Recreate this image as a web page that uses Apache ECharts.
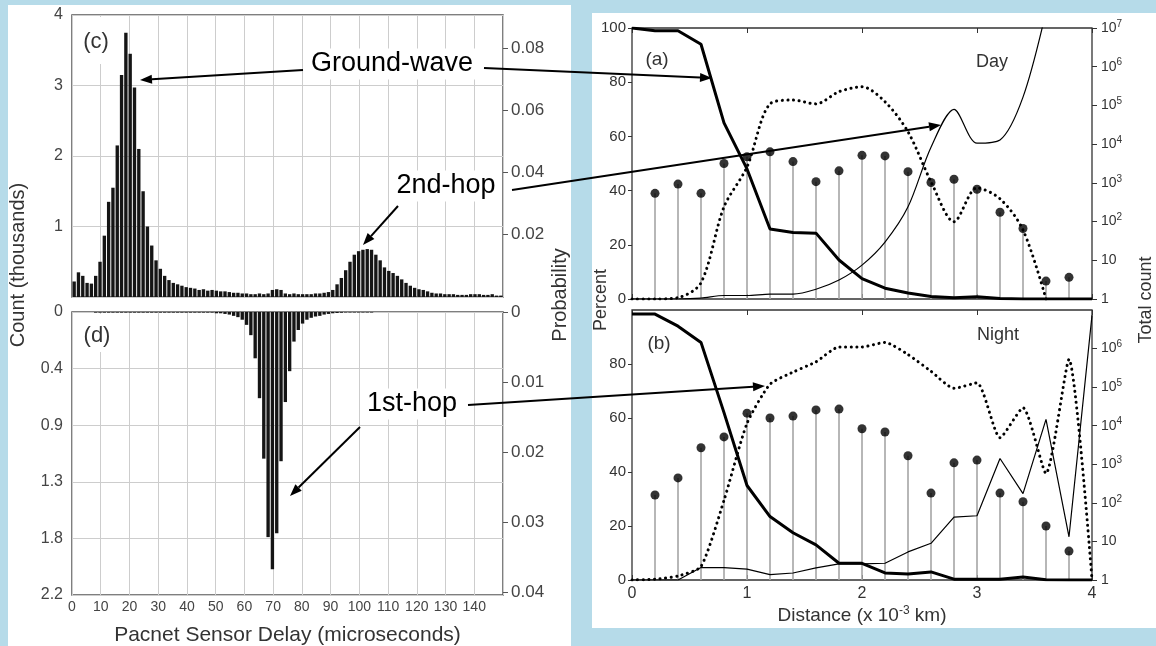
<!DOCTYPE html>
<html>
<head>
<meta charset="utf-8">
<script src="https://cdn.jsdelivr.net/npm/echarts@6/dist/echarts.min.js"></script>
<style>
html,body{margin:0;padding:0;}
body{width:1156px;height:646px;background:#b6dbe9;position:relative;overflow:hidden;}
.panel{position:absolute;background:#fff;}
#chart{position:absolute;left:0;top:0;width:1156px;height:646px;}
</style>
</head>
<body>
<div class="panel" style="left:8px;top:5px;width:563px;height:641px;"></div>
<div class="panel" style="left:592px;top:13px;width:564px;height:615px;"></div>
<div id="chart"></div>
<script>
// ---------- Data ----------
// Histogram bins: 1.5 microsecond bins from 0 to 150
const binCount = 100;
const binWidth = 1.5;
const countC = [ // (c) count in thousands
 0.22,0.35,0.30,0.20,0.19,0.30,0.50,0.87,1.35,1.55,
 2.15,3.15,3.75,3.45,2.97,2.10,1.50,1.00,0.73,0.52,
 0.40,0.30,0.24,0.20,0.18,0.16,0.14,0.13,0.12,0.10,
 0.11,0.09,0.10,0.09,0.08,0.08,0.07,0.06,0.06,0.05,
 0.05,0.04,0.04,0.05,0.04,0.05,0.10,0.11,0.10,0.05,
 0.04,0.05,0.04,0.04,0.04,0.04,0.05,0.05,0.06,0.07,
 0.10,0.18,0.27,0.38,0.50,0.60,0.65,0.67,0.68,0.67,
 0.60,0.52,0.42,0.37,0.34,0.30,0.25,0.20,0.16,0.13,
 0.11,0.10,0.08,0.06,0.05,0.05,0.04,0.04,0.04,0.03,
 0.03,0.03,0.04,0.04,0.04,0.03,0.03,0.04,0.02,0.02
];
const countD = [ // (d) count in thousands (drawn downward)
 0,0,0,0,0,0.005,0.005,0.005,0.005,0.005,
 0.005,0.005,0.005,0.005,0.005,0.005,0.005,0.005,0.005,0.005,
 0.005,0.005,0.005,0.005,0.005,0.005,0.005,0.005,0.005,0.005,
 0.005,0.005,0.005,0.01,0.01,0.015,0.02,0.03,0.04,0.06,
 0.10,0.18,0.36,0.67,1.14,1.75,2.00,1.72,1.16,0.70,
 0.46,0.23,0.14,0.09,0.06,0.045,0.035,0.03,0.02,0.015,
 0.01,0.008,0.006,0.004,0.004,0.004,0.004,0.004,0.004,0.004,
 0,0,0,0,0,0,0,0,0,0,
 0,0,0,0,0,0,0,0,0,0,
 0,0,0,0,0,0,0,0,0,0
];
// Distance grid (x 10^-3 km)
const distance = [0,0.2,0.4,0.6,0.8,1.0,1.2,1.4,1.6,1.8,2.0,2.2,2.4,2.6,2.8,3.0,3.2,3.4,3.6,3.8,4.0];
const stemX = [0.2,0.4,0.6,0.8,1.0,1.2,1.4,1.6,1.8,2.0,2.2,2.4,2.6,2.8,3.0,3.2,3.4,3.6,3.8];
// Day (a)
const dayGround = [100,99,99,94,65,48,25.8,24.5,24.3,14.4,7.5,4,2.2,0.9,0.5,0.8,0.2,0,0,0,0];
const dayFirst  = [0,0,0.5,6,34,48.7,72,73.4,72,76.5,78.3,72.8,61.7,43.3,28.5,41,37,25.5,0,null,null];
const daySecond = [0,0,0,0.3,1.3,1.3,1.8,1.8,3.6,7,12.5,21,34,56,70,57.5,58.7,74.5,106,null,null];
const dayTotal  = [39,42.4,39,50,52.5,54.3,50.7,43.3,47.3,53,52.8,47,43,44.2,40.5,32,26,6.6,8];
// Night (b)
const nightGround = [98.5,98.5,94,88,62,35,23.5,17.5,13,6.2,6.2,2.6,2.2,3,0.3,0.3,0.3,1.1,0.1,0,0];
const nightFirst  = [0,0.3,1.5,5,29.5,58,72.5,77,80.8,86.3,86.3,88,83.5,77.3,71,73,52.7,63.8,39.5,81.7,0];
const nightSecond = [0,0,0,4.6,4.6,4,2,2.6,4.5,6,6,6.2,10.4,13.6,23.3,23.8,45,32,59.5,16,98];
const nightTotal  = [31.5,37.8,49,53,61.8,60,60.7,63,63.3,56,54.8,46,32.2,43.4,44.4,32.2,29,20,10.7];

// ---------- Helpers ----------
const FONT = 'Liberation Sans, Arial, Helvetica, sans-serif';
const binCats = [];
for (let i = 0; i < binCount; i++) binCats.push(String(i * binWidth));
const zip = (xs, ys) => xs.map((x, i) => [x, ys[i]]).filter(p => p[1] !== null && p[1] !== undefined);
const gridLine = {show: true, lineStyle: {color: '#cdcdcd', width: 1}};
const noLine = {show: false, onZero: false};
const logFmt = v => { const e = Math.round(Math.log10(v)); return e === 0 ? '1' : (e === 1 ? '10' : '10{s|' + e + '}'); };
const logLabel = (hideMax) => ({
  formatter: logFmt, fontSize: 14, color: '#333', fontFamily: FONT, margin: 9,
  showMaxLabel: !hideMax,
  rich: {s: {fontSize: 10, color: '#333', fontFamily: FONT, padding: [0, 0, 8, 0]}}
});

function arrow(x1, y1, x2, y2) {
  const a = Math.atan2(y2 - y1, x2 - x1);
  const L = 12, W = 4.5;
  const bx = x2 - L * Math.cos(a), by = y2 - L * Math.sin(a);
  const px = -Math.sin(a) * W, py = Math.cos(a) * W;
  return [
    {type: 'line', z: 100, shape: {x1: x1, y1: y1, x2: bx, y2: by}, style: {stroke: '#000', lineWidth: 2}},
    {type: 'polygon', z: 100, shape: {points: [[x2, y2], [bx + px, by + py], [bx - px, by - py]]}, style: {fill: '#000'}}
  ];
}
function txt(t, x, y, size, opts) {
  opts = opts || {};
  return {
    type: 'text', z: opts.z || 90, x: x, y: y, rotation: opts.rot || 0,
    style: Object.assign({text: t, x: 0, y: 0, align: 'center', verticalAlign: 'middle',
      font: size + 'px ' + FONT, fill: opts.color || '#000'}, opts.style || {})
  };
}

const chart = echarts.init(document.getElementById('chart'), null, {renderer: 'canvas'});
const lineThick = {type: 'line', showSymbol: false, symbol: 'none', lineStyle: {color: '#000', width: 3}, z: 5};
const lineThin = {type: 'line', showSymbol: false, symbol: 'none', lineStyle: {color: '#000', width: 1.2}, z: 4};
const lineDot = {type: 'line', showSymbol: false, symbol: 'none', lineStyle: {color: '#000', width: 3, type: [0.1, 5.5], cap: 'round'}, z: 4};
const gridBase = {show: true, backgroundColor: 'transparent', containLabel: false, outerBoundsMode: 'none'};

const option = {
  backgroundColor: 'transparent',
  animation: false,
  textStyle: {fontFamily: FONT},
  grid: [
    Object.assign({left: 72, top: 15, width: 431, height: 282, borderColor: '#555', borderWidth: 1.5}, gridBase),
    Object.assign({left: 72, top: 312, width: 431, height: 283, borderColor: '#555', borderWidth: 1.5}, gridBase),
    Object.assign({left: 632, top: 28, width: 460, height: 271, borderColor: '#333', borderWidth: 1.3}, gridBase),
    Object.assign({left: 632, top: 310, width: 460, height: 270, borderColor: '#333', borderWidth: 1.3}, gridBase)
  ],
  xAxis: [
    {type: 'category', gridIndex: 0, position: 'top', data: binCats, show: false},
    {type: 'value', gridIndex: 0, position: 'bottom', min: 0, max: 150, interval: 10, axisLine: noLine, axisTick: {show: false},
      axisLabel: {show: false}, splitLine: gridLine},
    {type: 'category', gridIndex: 1, position: 'top', data: binCats, show: false},
    {type: 'value', gridIndex: 1, position: 'bottom', min: 0, max: 150, interval: 10, axisLine: noLine, axisTick: {show: false},
      axisLabel: {fontSize: 14, color: '#444', margin: 5, showMaxLabel: false, fontFamily: FONT}, splitLine: gridLine,
      name: 'Pacnet Sensor Delay (microseconds)', nameLocation: 'middle', nameGap: 30,
      nameTextStyle: {fontSize: 21, color: '#333', fontFamily: FONT}},
    {type: 'value', gridIndex: 2, min: 0, max: 4, interval: 1, position: 'bottom', axisLine: noLine,
      axisTick: {inside: true, length: 5, lineStyle: {color: '#333'}}, axisLabel: {show: false}, splitLine: {show: false}},
    {type: 'value', gridIndex: 2, min: 0, max: 4, interval: 1, position: 'top', axisLine: noLine,
      axisTick: {inside: true, length: 5, lineStyle: {color: '#333'}}, axisLabel: {show: false}, splitLine: {show: false}},
    {type: 'value', gridIndex: 3, min: 0, max: 4, interval: 1, position: 'bottom', axisLine: noLine,
      axisTick: {inside: true, length: 5, lineStyle: {color: '#333'}},
      axisLabel: {fontSize: 16, color: '#333', margin: 6, fontFamily: FONT}, splitLine: {show: false},
      name: 'Distance (x 10{s|-3} km)', nameLocation: 'middle', nameGap: 25,
      nameTextStyle: {fontSize: 19, color: '#333', fontFamily: FONT,
        rich: {s: {fontSize: 12, color: '#333', fontFamily: FONT, padding: [0, 0, 9, 0]}}}},
    {type: 'value', gridIndex: 3, min: 0, max: 4, interval: 1, position: 'top', axisLine: noLine,
      axisTick: {inside: true, length: 5, lineStyle: {color: '#333'}}, axisLabel: {show: false}, splitLine: {show: false}}
  ],
  yAxis: [
    {type: 'value', gridIndex: 0, position: 'left', min: 0, max: 4, interval: 1, axisLine: noLine, axisTick: {show: false},
      axisLabel: {showMinLabel: false, fontSize: 16, color: '#444', margin: 9, fontFamily: FONT}, splitLine: gridLine},
    {type: 'value', gridIndex: 0, position: 'right', min: 0, max: 0.0906, interval: 0.02, axisLine: noLine,
      axisTick: {show: true, length: 5, lineStyle: {color: '#555'}},
      axisLabel: {showMinLabel: false, showMaxLabel: false, fontSize: 17, color: '#444', margin: 8, fontFamily: FONT,
        formatter: v => v.toFixed(2)}, splitLine: {show: false}},
    {type: 'value', gridIndex: 1, position: 'left', inverse: true, min: 0, max: 2.2, interval: 0.44, axisLine: noLine, axisTick: {show: false},
      axisLabel: {fontSize: 16, color: '#444', margin: 9, fontFamily: FONT,
        formatter: v => v === 0 ? '0' : v.toFixed(1)}, splitLine: gridLine},
    {type: 'value', gridIndex: 1, position: 'right', inverse: true, min: 0, max: 0.0404, interval: 0.01, axisLine: noLine,
      axisTick: {show: true, length: 5, lineStyle: {color: '#555'}},
      axisLabel: {showMaxLabel: false, fontSize: 17, color: '#444', margin: 8, fontFamily: FONT,
        formatter: v => v === 0 ? '0' : v.toFixed(2)}, splitLine: {show: false}},
    {type: 'value', gridIndex: 2, position: 'left', min: 0, max: 100, interval: 20, axisLine: noLine,
      axisTick: {show: true, length: 4, lineStyle: {color: '#333'}},
      axisLabel: {fontSize: 15, color: '#333', margin: 6, fontFamily: FONT}, splitLine: {show: false}},
    {type: 'log', gridIndex: 2, position: 'right', min: 1, max: 1e7, logBase: 10, splitNumber: 7, axisLine: noLine,
      axisTick: {show: true, length: 5, lineStyle: {color: '#333'}}, minorTick: {show: false},
      axisLabel: logLabel(false), splitLine: {show: false}},
    {type: 'value', gridIndex: 3, position: 'left', min: 0, max: 100, interval: 20, axisLine: noLine,
      axisTick: {show: true, length: 4, lineStyle: {color: '#333'}},
      axisLabel: {fontSize: 15, color: '#333', margin: 6, showMaxLabel: false, fontFamily: FONT}, splitLine: {show: false}},
    {type: 'log', gridIndex: 3, position: 'right', min: 1, max: 1e7, logBase: 10, splitNumber: 7, axisLine: noLine,
      axisTick: {show: true, length: 5, lineStyle: {color: '#333'}}, minorTick: {show: false},
      axisLabel: logLabel(true), splitLine: {show: false}}
  ],
  series: [
    {type: 'bar', xAxisIndex: 0, yAxisIndex: 0, data: countC, barCategoryGap: '22%', itemStyle: {color: '#151515'}, silent: true},
    {type: 'bar', xAxisIndex: 2, yAxisIndex: 2, data: countD, barCategoryGap: '22%', itemStyle: {color: '#151515'}, silent: true},
    // Day (a)
    {type: 'bar', xAxisIndex: 4, yAxisIndex: 4, data: zip(stemX, dayTotal), barWidth: 1.6, itemStyle: {color: '#a5a5a5'}, z: 2, silent: true},
    {type: 'scatter', xAxisIndex: 4, yAxisIndex: 4, data: zip(stemX, dayTotal), symbolSize: 9, itemStyle: {color: '#000'}, z: 6},
    Object.assign({}, lineThick, {xAxisIndex: 4, yAxisIndex: 4, data: zip(distance, dayGround)}),
    Object.assign({}, lineDot, {xAxisIndex: 4, yAxisIndex: 4, data: zip(distance, dayFirst), smooth: 0.3}),
    Object.assign({}, lineThin, {xAxisIndex: 4, yAxisIndex: 4, data: zip(distance, daySecond), smooth: 0.3}),
    // Night (b)
    {type: 'bar', xAxisIndex: 6, yAxisIndex: 6, data: zip(stemX, nightTotal), barWidth: 1.6, itemStyle: {color: '#a5a5a5'}, z: 2, silent: true},
    {type: 'scatter', xAxisIndex: 6, yAxisIndex: 6, data: zip(stemX, nightTotal), symbolSize: 9, itemStyle: {color: '#000'}, z: 6},
    Object.assign({}, lineThick, {xAxisIndex: 6, yAxisIndex: 6, data: zip(distance, nightGround)}),
    Object.assign({}, lineDot, {xAxisIndex: 6, yAxisIndex: 6, data: zip(distance, nightFirst), smooth: 0.2}),
    Object.assign({}, lineThin, {xAxisIndex: 6, yAxisIndex: 6, data: zip(distance, nightSecond)})
  ],
  graphic: [].concat(
    [
      {type: 'rect', z: 80, shape: {x: 74, y: 17, width: 36, height: 47}, style: {fill: '#fff'}},
      {type: 'rect', z: 80, shape: {x: 74, y: 314, width: 36, height: 38}, style: {fill: '#fff'}},
      txt('(c)', 96, 42, 22, {color: '#333'}),
      txt('(d)', 97, 336, 22, {color: '#333'}),
      txt('(a)', 657, 60, 19, {color: '#333'}),
      txt('(b)', 659, 344, 19, {color: '#333'}),
      txt('Day', 992, 62, 18, {color: '#333'}),
      txt('Night', 998, 335, 18, {color: '#333'}),
      txt('Count (thousands)', 18, 265, 20, {rot: Math.PI / 2, color: '#333'}),
      txt('Probability', 560, 295, 20, {rot: Math.PI / 2, color: '#333'}),
      txt('Percent', 601, 300, 18, {rot: Math.PI / 2, color: '#333'}),
      txt('Total count', 1146, 300, 18, {rot: Math.PI / 2, color: '#333'})
    ],
    arrow(303, 70, 140, 80),
    arrow(484, 68, 712, 78),
    arrow(398, 206, 363, 245),
    arrow(512, 190, 941, 125),
    arrow(360, 427, 290, 496),
    arrow(468, 405, 765, 386),
    [
      txt('Ground-wave', 392, 64, 27, {z: 110, style: {backgroundColor: '#fff', padding: [2, 5]}}),
      txt('2nd-hop', 446, 186, 27, {z: 110, style: {backgroundColor: '#fff', padding: [2, 5]}}),
      txt('1st-hop', 412, 404, 27, {z: 110, style: {backgroundColor: '#fff', padding: [2, 5]}})
    ]
  )
};
chart.setOption(option);
</script>
</body>
</html>
